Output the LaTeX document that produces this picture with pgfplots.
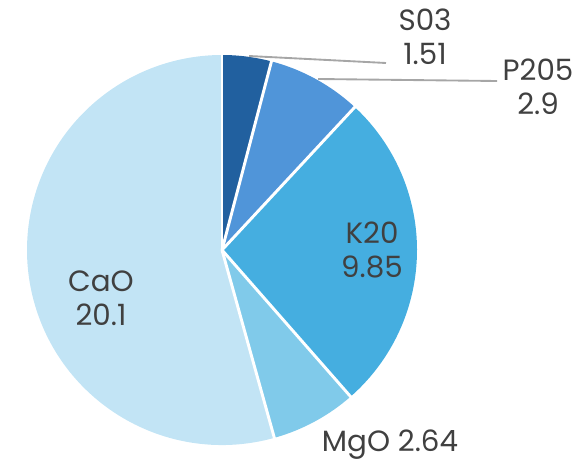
\documentclass[border=0pt]{standalone}
\usepackage{pgfplots}
\usepackage{pgfplotstable}
\pgfplotsset{compat=1.18}
\usepackage{fontspec}
\setmainfont{Poppins}
\definecolor{cA}{HTML}{21609F}
\definecolor{cB}{HTML}{5095D9}
\definecolor{cC}{HTML}{45AEE0}
\definecolor{cD}{HTML}{80CAEA}
\definecolor{cE}{HTML}{C2E4F5}
\definecolor{txt}{HTML}{404040}
\definecolor{lead}{HTML}{A6A6A6}
\pgfplotstableread{
label value
S03 1.51
P205 2.9
K20 9.85
MgO 2.64
CaO 20.1
}\piedata
\begin{document}
\begin{tikzpicture}[font=\fontsize{22}{25.5}\selectfont]
\pgfplotstablegetelem{0}{value}\of\piedata\let\vA\pgfplotsretval
\pgfplotstablegetelem{1}{value}\of\piedata\let\vB\pgfplotsretval
\pgfplotstablegetelem{2}{value}\of\piedata\let\vC\pgfplotsretval
\pgfplotstablegetelem{3}{value}\of\piedata\let\vD\pgfplotsretval
\pgfplotstablegetelem{4}{value}\of\piedata\let\vE\pgfplotsretval
\pgfmathsetmacro{\tot}{\vA+\vB+\vC+\vD+\vE}
\pgfmathsetmacro{\aA}{90}
\pgfmathsetmacro{\aB}{\aA-360*\vA/\tot}
\pgfmathsetmacro{\aC}{\aB-360*\vB/\tot}
\pgfmathsetmacro{\aD}{\aC-360*\vC/\tot}
\pgfmathsetmacro{\aE}{\aD-360*\vD/\tot}
\pgfmathsetmacro{\aF}{\aE-360*\vE/\tot}
\begin{axis}[width=435pt, height=348.75pt, scale only axis,
  xmin=0, xmax=580, ymin=0, ymax=465, hide axis, clip=false]
\coordinate (ll) at (axis cs:0,0);
\coordinate (ur) at (axis cs:580,465);
\fill[cA] (axis cs:222,215) -- (axis cs:{222+195*cos(\aA)},{215+195*sin(\aA)}) arc[start angle=\aA, end angle=\aB, radius=195] -- cycle;
\fill[cB] (axis cs:222,215) -- (axis cs:{222+195*cos(\aB)},{215+195*sin(\aB)}) arc[start angle=\aB, end angle=\aC, radius=195] -- cycle;
\fill[cC] (axis cs:222,215) -- (axis cs:{222+195*cos(\aC)},{215+195*sin(\aC)}) arc[start angle=\aC, end angle=\aD, radius=195] -- cycle;
\fill[cD] (axis cs:222,215) -- (axis cs:{222+195*cos(\aD)},{215+195*sin(\aD)}) arc[start angle=\aD, end angle=\aE, radius=195] -- cycle;
\fill[cE] (axis cs:222,215) -- (axis cs:{222+195*cos(\aE)},{215+195*sin(\aE)}) arc[start angle=\aE, end angle=\aF, radius=195] -- cycle;
\draw[white, line width=2.2pt] (axis cs:222,215) -- (axis cs:{222+196*cos(\aA)},{215+196*sin(\aA)});
\draw[white, line width=2.2pt] (axis cs:222,215) -- (axis cs:{222+196*cos(\aB)},{215+196*sin(\aB)});
\draw[white, line width=2.2pt] (axis cs:222,215) -- (axis cs:{222+196*cos(\aC)},{215+196*sin(\aC)});
\draw[white, line width=2.2pt] (axis cs:222,215) -- (axis cs:{222+196*cos(\aD)},{215+196*sin(\aD)});
\draw[white, line width=2.2pt] (axis cs:222,215) -- (axis cs:{222+196*cos(\aE)},{215+196*sin(\aE)});
\draw[lead, line width=1.4pt] (axis cs:249,409) -- (axis cs:386,402);
\draw[lead, line width=1.4pt] (axis cs:318,386) -- (axis cs:497,384);
\node[txt, align=center] at (axis cs:425,428) {S03\\1.51};
\node[txt, align=center] at (axis cs:538,378) {P205\\2.9};
\node[txt, align=center] at (axis cs:372,215) {K20\\9.85};
\node[txt, align=center] at (axis cs:101,167) {CaO\\20.1};
\node[txt] at (axis cs:390,20) {MgO 2.64};
\end{axis}
\pgfresetboundingbox
\useasboundingbox (ll) rectangle (ur);
\end{tikzpicture}
\end{document}
